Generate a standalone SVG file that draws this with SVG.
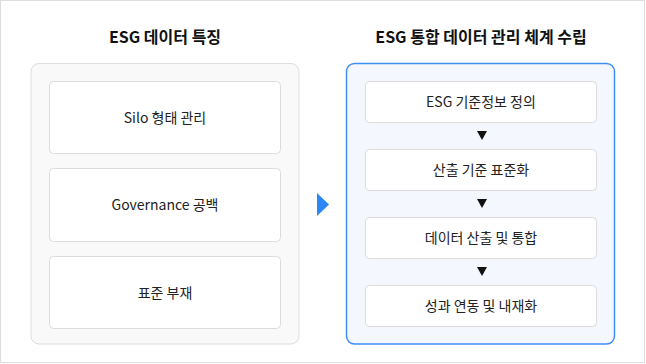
<svg xmlns="http://www.w3.org/2000/svg" width="646" height="364" viewBox="0 0 646 364">
<style>
.title{font-family:"Noto Sans CJK KR","Noto Sans",sans-serif;font-size:16px;font-weight:700;fill:#111;text-anchor:middle}
.lbl{font-family:"Noto Sans CJK KR","Noto Sans",sans-serif;font-size:14px;fill:#222;text-anchor:middle}
.box{fill:#fff;stroke:#dcdcdc;stroke-width:1}
</style>
<rect x="0.5" y="0.5" width="644" height="362" fill="#fff" stroke="#dddddd"/>
<g id="left-panel">
<text class="title" x="165" y="43">ESG 데이터 특징</text>
<rect x="31" y="63.5" width="268" height="280.5" rx="8" fill="#f9f9f9" stroke="#dedede" stroke-width="1"/>
</g>
<g id="node-silo"><rect class="box" x="49.5" y="81.5" width="231" height="72" rx="4"/><text class="lbl" x="165" y="123">Silo 형태 관리</text></g>
<g id="node-governance"><rect class="box" x="49.5" y="168.5" width="231" height="73" rx="4"/><text class="lbl" x="165" y="210">Governance 공백</text></g>
<g id="node-standard"><rect class="box" x="49.5" y="256.5" width="231" height="72" rx="4"/><text class="lbl" x="165" y="298">표준 부재</text></g>
<g id="right-panel">
<text class="title" x="481" y="43">ESG 통합 데이터 관리 체계 수립</text>
<rect x="346.5" y="63.5" width="268" height="280.5" rx="8" fill="#f4f8fe" stroke="#3d8ef2" stroke-width="1.5"/>
</g>
<g id="node-r1"><rect class="box" x="365.5" y="81.5" width="231" height="41" rx="4"/><text class="lbl" x="481" y="107">ESG 기준정보 정의</text></g>
<g id="node-r2"><rect class="box" x="365.5" y="149.5" width="231" height="41" rx="4"/><text class="lbl" x="481" y="175">산출 기준 표준화</text></g>
<g id="node-r3"><rect class="box" x="365.5" y="217.5" width="231" height="41" rx="4"/><text class="lbl" x="481" y="243">데이터 산출 및 통합</text></g>
<g id="node-r4"><rect class="box" x="365.5" y="285.5" width="231" height="41" rx="4"/><text class="lbl" x="481" y="311">성과 연동 및 내재화</text></g>
<g id="connectors">
<polygon points="317,193 329,204.5 317,216" fill="#2b87f5"/>
<polygon points="477,131 487,131 482,140" fill="#111"/>
<polygon points="477,199 487,199 482,208" fill="#111"/>
<polygon points="477,267 487,267 482,276" fill="#111"/>
</g>
</svg>
